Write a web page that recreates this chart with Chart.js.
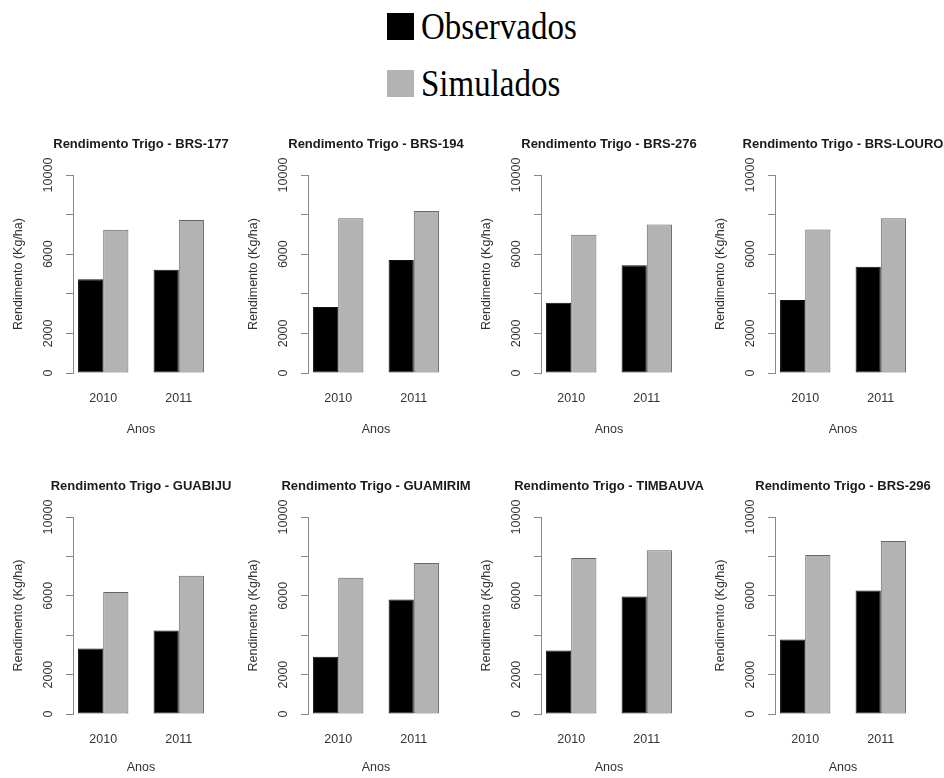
<!DOCTYPE html>
<html><head><meta charset="utf-8">
<script src="https://cdn.jsdelivr.net/npm/chart.js@4.4.1/dist/chart.umd.min.js"></script>
<style>
html,body{margin:0;padding:0;background:#fff;width:944px;height:778px;overflow:hidden;position:relative}
canvas{position:absolute}
.sw{position:absolute;width:27px;height:27px}
.lt{position:absolute;font-family:'Liberation Serif','Times New Roman',serif;font-size:33px;line-height:33px;color:#000;white-space:nowrap;transform:scaleY(1.17);transform-origin:0 27.6px}
</style></head><body>
<div id="legend"></div>
<script>
// ---- data ----
const years = ['2010', '2011'];
const cultivars = ['BRS-177', 'BRS-194', 'BRS-276', 'BRS-LOURO', 'GUABIJU', 'GUAMIRIM', 'TIMBAUVA', 'BRS-296'];
const seriesNames = ['Observados', 'Simulados'];
const obs2010 = [4740, 3330, 3550, 3690, 3320, 2900, 3220, 3780];
const obs2011 = [5210, 5710, 5440, 5360, 4240, 5810, 5970, 6270];
const sim2010 = [7230, 7820, 6980, 7250, 6190, 6920, 7920, 8070];
const sim2011 = [7730, 8180, 7500, 7810, 7020, 7660, 8310, 8780];
const yTickValues = [0, 2000, 4000, 6000, 8000, 10000];
const yTickLabels = ['0', '2000', '', '6000', '', '10000'];

// ---- styling / layout ----
const seriesColors = ['#000000', '#b3b3b3'];
const seriesBorders = ['#111111', '#666666'];
const TITLE = '#1a1a1a';
const TEXT = '#333';
const AXIS = '#888';
const FONT = "'Liberation Sans', Arial, sans-serif";
const colLeft = [0, 235, 468, 702];
const rows = [
  { top: 130, h: 320, xh: 77, titlePadBottom: 12.5 },
  { top: 472, h: 306, xh: 64, titlePadBottom: 2.5 }
];
// R barplot(beside=TRUE) geometry: bars of width 1, group spacing 1
const groupCenter = i => 2 + 3 * i;

// legend (HTML)
const lg = document.getElementById('legend');
seriesNames.forEach((n, i) => {
  const sw = document.createElement('div');
  sw.className = 'sw';
  sw.style.left = '387px';
  sw.style.top = (13 + i * 57) + 'px';
  sw.style.background = seriesColors[i];
  lg.appendChild(sw);
  const t = document.createElement('div');
  t.className = 'lt';
  t.style.left = '421px';
  t.style.top = (11.5 + i * 57.5) + 'px';
  t.textContent = n;
  lg.appendChild(t);
});

cultivars.forEach((cv, p) => {
  const row = rows[Math.floor(p / 4)];
  const c = document.createElement('canvas');
  c.width = 282; c.height = row.h;
  c.style.left = colLeft[p % 4] + 'px';
  c.style.top = row.top + 'px';
  document.body.appendChild(c);
  const obs = [obs2010[p], obs2011[p]];
  const sim = [sim2010[p], sim2011[p]];
  new Chart(c, {
    type: 'bar',
    data: {
      datasets: [
        { label: seriesNames[0], data: years.map((y, i) => ({ x: groupCenter(i), y: obs[i] })),
          backgroundColor: seriesColors[0], borderColor: seriesBorders[0], borderWidth: 1, borderSkipped: false },
        { label: seriesNames[1], data: years.map((y, i) => ({ x: groupCenter(i), y: sim[i] })),
          backgroundColor: seriesColors[1], borderColor: seriesBorders[1], borderWidth: 1, borderSkipped: false }
      ]
    },
    options: {
      responsive: false, animation: false, devicePixelRatio: 1,
      categoryPercentage: 2 / 3, barPercentage: 1,
      layout: { padding: 0 },
      plugins: {
        legend: { display: false }, tooltip: { enabled: false },
        title: { display: true, text: 'Rendimento Trigo - ' + cv, color: TITLE,
          font: { family: FONT, size: 13, weight: 'bold' }, padding: { top: 7, bottom: 22.4 } }
      },
      scales: {
        x: {
          type: 'linear', min: 0.8, max: 6.2, offset: false,
          grid: { display: false, drawTicks: false }, border: { display: false },
          afterBuildTicks: s => { s.ticks = years.map((y, i) => ({ value: groupCenter(i) })); },
          afterFit: s => { s.height = row.xh; },
          ticks: { callback: (v, i) => years[i], color: TEXT, font: { family: FONT, size: 12.5 }, padding: 18.5, autoSkip: false, maxRotation: 0 },
          title: { display: true, text: 'Anos', color: TEXT, font: { family: FONT, size: 12.5 }, padding: { top: 0, bottom: row.titlePadBottom } }
        },
        y: {
          type: 'linear', position: 'left', min: 0, max: 10000,
          afterBuildTicks: s => { s.ticks = yTickValues.map(v => ({ value: v })); },
          afterFit: s => { s.width = 73; },
          grid: { display: true, drawOnChartArea: false, drawTicks: true, tickLength: 7, color: AXIS, lineWidth: 1 },
          border: { display: true, color: AXIS, width: 1 },
          ticks: { callback: (v, i) => yTickLabels[i], color: TEXT, font: { family: FONT, size: 12.5 },
            minRotation: 90, maxRotation: 90, crossAlign: 'center', padding: 0, autoSkip: false },
          title: { display: true, text: 'Rendimento (Kg/ha)', color: TEXT, font: { family: FONT, size: 12.5 }, padding: { top: 11.5, bottom: 0 } }
        },
        yr: {
          type: 'linear', position: 'right', display: true,
          ticks: { display: false }, grid: { display: false, drawTicks: false }, border: { display: false },
          afterFit: s => { s.width = 73; }
        }
      }
    }
  });
});
</script>
</body></html>
